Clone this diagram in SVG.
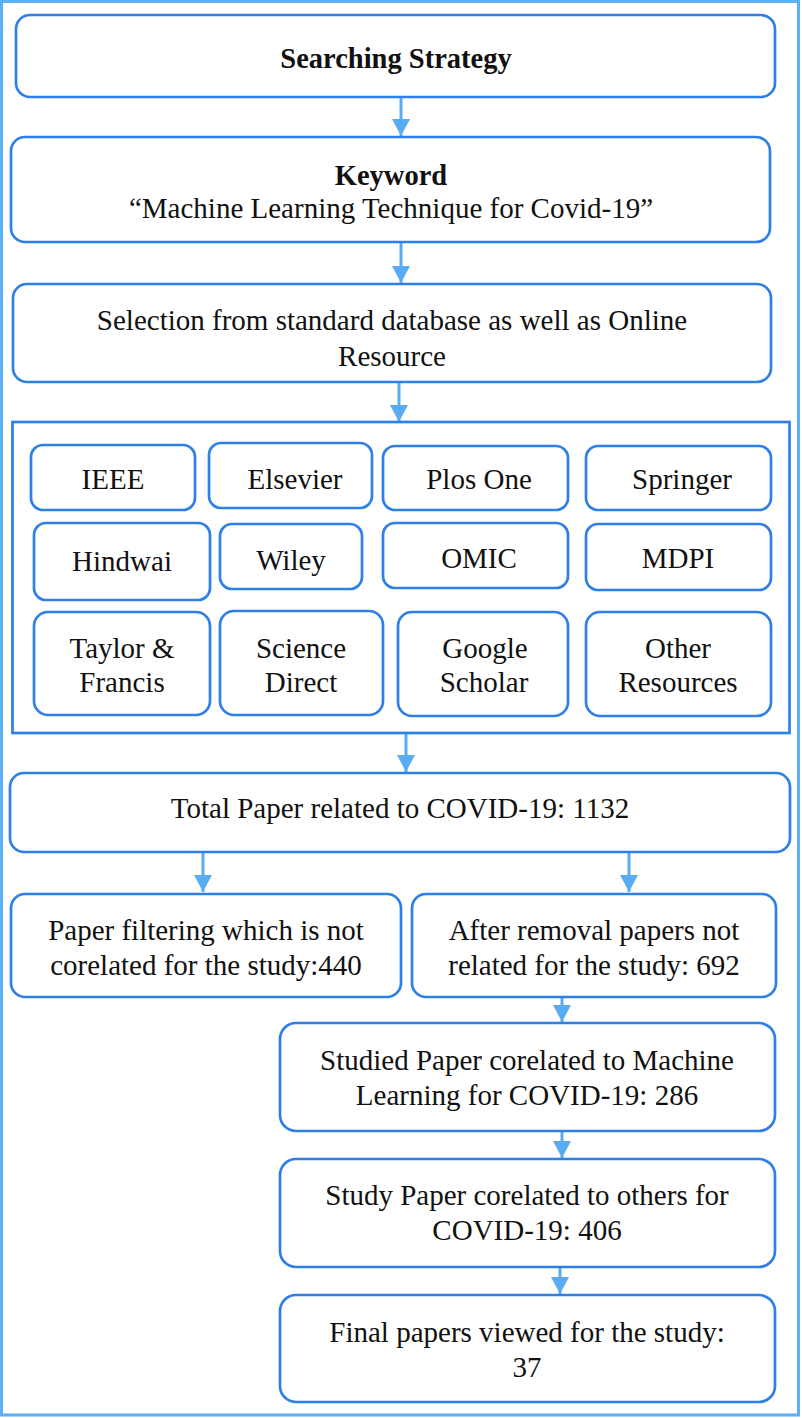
<svg xmlns="http://www.w3.org/2000/svg" width="802" height="1418" viewBox="0 0 802 1418">
<defs>
<style>
.n{fill:#fff;stroke:#2f7fe8;stroke-width:2.7}
.t{font-family:"Liberation Serif","Times New Roman",serif;font-size:29px;fill:#111;text-anchor:middle}
.b{font-weight:bold;font-size:28.5px}
.c{stroke:#5aacf2;stroke-width:3;fill:none;marker-end:url(#ah)}
</style>
<marker id="ah" markerUnits="userSpaceOnUse" viewBox="0 0 17 18" refX="17" refY="9" markerWidth="17" markerHeight="18" orient="auto">
<path d="M0,0 L17,9 L0,18 z" fill="#5aacf2"/>
</marker>
</defs>
<rect x="1.5" y="1.5" width="797" height="1413.5" fill="#fff" stroke="#5cb0f5" stroke-width="3"/>

<g id="connectors">
<line class="c" x1="401" y1="97" x2="401" y2="136"/>
<line class="c" x1="401" y1="242" x2="401" y2="283"/>
<line class="c" x1="399" y1="383" x2="399" y2="422"/>
<line class="c" x1="406" y1="733" x2="406" y2="772"/>
<line class="c" x1="203" y1="852" x2="203" y2="892"/>
<line class="c" x1="629" y1="852" x2="629" y2="892"/>
<line class="c" x1="562" y1="997" x2="562" y2="1022"/>
<line class="c" x1="562" y1="1131" x2="562" y2="1158"/>
<line class="c" x1="560" y1="1267" x2="560" y2="1294"/>
</g>

<g id="searching">
<rect class="n" x="16" y="15" width="759" height="82" rx="14"/>
<text class="t b" x="396" y="68">Searching Strategy</text>
</g>
<g id="keyword">
<rect class="n" x="11" y="137" width="759" height="105" rx="14"/>
<text class="t b" x="391" y="185">Keyword</text>
<text class="t" x="391" y="218">“Machine Learning Technique for Covid-19”</text>
</g>
<g id="selection">
<rect class="n" x="13" y="284" width="758" height="98" rx="14"/>
<text class="t" x="392" y="330">Selection from standard database as well as Online</text>
<text class="t" x="392" y="366">Resource</text>
</g>
<g id="databases">
<rect x="12.5" y="422" width="777" height="311" fill="none" stroke="#2f7fe8" stroke-width="2.7"/>
</g>
<g id="ieee"><rect class="n" x="31" y="445" width="164" height="65" rx="12"/><text class="t" x="113" y="489">IEEE</text></g>
<g id="elsevier"><rect class="n" x="209" y="443" width="163" height="65" rx="12"/><text class="t" x="295" y="489">Elsevier</text></g>
<g id="plosone"><rect class="n" x="383" y="446" width="185" height="64" rx="12"/><text class="t" x="479" y="489">Plos One</text></g>
<g id="springer"><rect class="n" x="586" y="446" width="185" height="64" rx="12"/><text class="t" x="682" y="489">Springer</text></g>
<g id="hindwai"><rect class="n" x="34" y="523" width="176" height="77" rx="12"/><text class="t" x="122" y="571">Hindwai</text></g>
<g id="wiley"><rect class="n" x="220" y="524" width="142" height="65" rx="12"/><text class="t" x="291" y="570">Wiley</text></g>
<g id="omic"><rect class="n" x="383" y="523" width="185" height="65" rx="12"/><text class="t" x="479" y="568">OMIC</text></g>
<g id="mdpi"><rect class="n" x="586" y="524" width="185" height="66" rx="12"/><text class="t" x="678" y="568">MDPI</text></g>
<g id="taylor"><rect class="n" x="34" y="612" width="176" height="103" rx="14"/><text class="t" x="122" y="658">Taylor &amp;</text><text class="t" x="122" y="692">Francis</text></g>
<g id="sciencedirect"><rect class="n" x="220" y="611" width="163" height="104" rx="14"/><text class="t" x="301" y="658">Science</text><text class="t" x="301" y="692">Direct</text></g>
<g id="googlescholar"><rect class="n" x="398" y="612" width="170" height="104" rx="14"/><text class="t" x="485" y="658">Google</text><text class="t" x="484" y="692">Scholar</text></g>
<g id="other"><rect class="n" x="586" y="612" width="185" height="104" rx="14"/><text class="t" x="678" y="658">Other</text><text class="t" x="678" y="692">Resources</text></g>

<g id="total">
<rect class="n" x="10" y="773" width="780" height="79" rx="14"/>
<text class="t" x="400" y="818">Total Paper related to COVID-19: 1132</text>
</g>
<g id="filtering">
<rect class="n" x="11" y="894" width="390" height="103" rx="14"/>
<text class="t" x="206" y="940">Paper filtering which is not</text>
<text class="t" x="206" y="975">corelated for the study:440</text>
</g>
<g id="removal">
<rect class="n" x="412" y="894" width="364" height="103" rx="14"/>
<text class="t" x="594" y="940">After removal papers not</text>
<text class="t" x="594" y="975">related for the study: 692</text>
</g>
<g id="ml">
<rect class="n" x="280" y="1023" width="495" height="108" rx="16"/>
<text class="t" x="527" y="1070">Studied Paper corelated to Machine</text>
<text class="t" x="527" y="1105">Learning for COVID-19: 286</text>
</g>
<g id="others">
<rect class="n" x="280" y="1159" width="495" height="108" rx="16"/>
<text class="t" x="527" y="1205">Study Paper corelated to others for</text>
<text class="t" x="527" y="1240">COVID-19: 406</text>
</g>
<g id="final">
<rect class="n" x="280" y="1295" width="495" height="107" rx="16"/>
<text class="t" x="527" y="1342">Final papers viewed for the study:</text>
<text class="t" x="527" y="1377">37</text>
</g>
</svg>
